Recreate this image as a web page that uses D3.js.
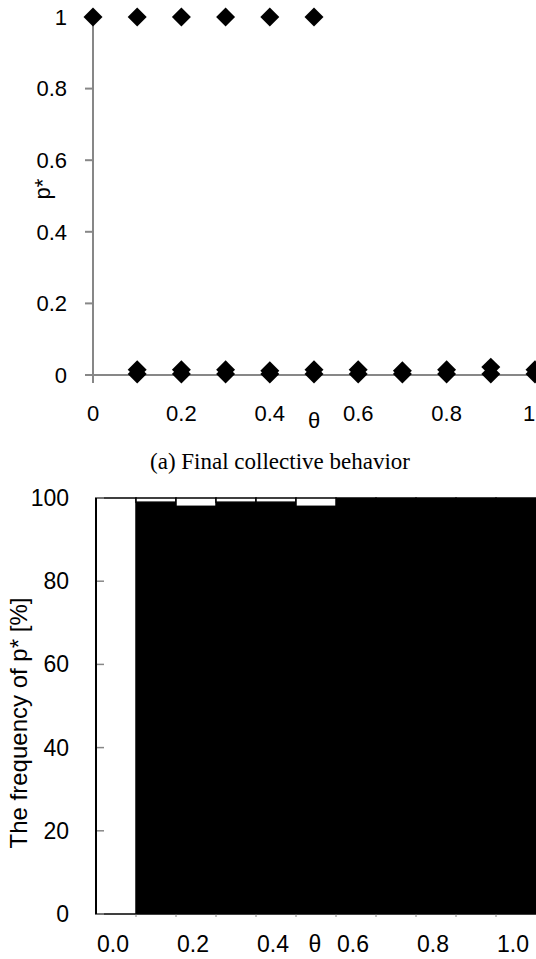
<html>
  <head>
    <style>
      body { margin: 0; background: #fff; }
      text { font-family: "Liberation Sans", Arial, sans-serif; fill: #000; }
      .caption { font-family: "Liberation Serif", "Times New Roman", serif; }
    </style>
  </head>
  <body>
    <svg id="fig" width="536" height="959"></svg>
    <script src="https://cdnjs.cloudflare.com/ajax/libs/d3/7.8.5/d3.min.js"></script>
    <script>
// (a) final collective behaviour, p* against theta
var thetaOne = [0, 0.1, 0.2, 0.3, 0.4, 0.5];
var pOne = [1, 1, 1, 1, 1, 1];
var thetaZero = [0.1, 0.2, 0.3, 0.4, 0.5, 0.6, 0.7, 0.8, 0.9, 1.0];
var pZeroLow = [0.003, 0.003, 0.003, 0.003, 0.003, 0.003, 0.003, 0.003, 0.003, 0.003];
var pZeroHigh = [0.015, 0.015, 0.015, 0.012, 0.015, 0.015, 0.012, 0.015, 0.022, 0.015];
var yTicksA = [0, 0.2, 0.4, 0.6, 0.8, 1];
var xTicksA = [0, 0.2, 0.4, 0.6, 0.8, 1];

// (b) frequency of p* (black = 0, white = 1)
var thetaCats = ['0.0', '0.1', '0.2', '0.3', '0.4', '0.5', '0.6', '0.7', '0.8', '0.9', '1.0'];
var freqZero = [0, 99, 98, 99, 99, 98, 100, 100, 100, 100, 100];
var freqOne = [100, 1, 2, 1, 1, 2, 0, 0, 0, 0, 0];
var yTicksB = [0, 20, 40, 60, 80, 100];
var xLabelsB = ['0.0', '0.2', '0.4', '0.6', '0.8', '1.0'];

var svg = d3.select('#fig');
var grey = '#878787';

// ---------- chart (a)
var xa = d3.scaleLinear().domain([0, 1]).range([93, 535]);
var ya = d3.scaleLinear().domain([0, 1]).range([375, 17]);
var ga = svg.append('g');

ga.append('line').attr('x1', xa(0)).attr('x2', 536).attr('y1', ya(0)).attr('y2', ya(0))
  .attr('stroke', grey).attr('stroke-width', 2);
ga.append('line').attr('x1', xa(0)).attr('x2', xa(0)).attr('y1', ya(1)).attr('y2', ya(0) + 8)
  .attr('stroke', grey).attr('stroke-width', 2);

ga.selectAll('.ytick').data(yTicksA).enter().append('line')
  .attr('x1', xa(0) - 8).attr('x2', xa(0)).attr('y1', d => ya(d)).attr('y2', d => ya(d))
  .attr('stroke', grey).attr('stroke-width', 2);
ga.selectAll('.ylab').data(yTicksA).enter().append('text')
  .attr('x', 67).attr('y', d => ya(d)).attr('dy', '0.35em')
  .attr('text-anchor', 'end').style('font-size', '22px')
  .text(d => d3.format('~g')(d));
// last label sits at the page edge, keep it just inside
ga.selectAll('.xlab').data(xTicksA).enter().append('text')
  .attr('x', d => Math.min(xa(d), 529)).attr('y', 421)
  .attr('text-anchor', 'middle').style('font-size', '22px')
  .text(d => d3.format('~g')(d));
ga.append('text').attr('x', xa(0.5)).attr('y', 428).attr('text-anchor', 'middle')
  .style('font-size', '22px').text('θ');
ga.append('text').attr('transform', 'translate(50,189) rotate(-90)')
  .attr('text-anchor', 'middle').style('font-size', '22px').text('p*');

var diamond = d3.symbol().type(d3.symbolSquare).size(180);
function drawPts(xs, ys) {
  ga.selectAll(null).data(xs.map((x, i) => [x, ys[i]])).enter().append('path')
    .attr('d', diamond)
    .attr('transform', d => 'translate(' + xa(d[0]) + ',' + ya(d[1]) + ') rotate(45)')
    .attr('fill', '#000');
}
drawPts(thetaZero, pZeroLow);
drawPts(thetaZero, pZeroHigh);
drawPts(thetaOne, pOne);

svg.append('text').attr('class', 'caption').attr('x', 280).attr('y', 469)
  .attr('text-anchor', 'middle').style('font-size', '23px')
  .text('(a) Final collective behavior');

// ---------- chart (b)
var xb = d3.scaleBand().domain(thetaCats).range([96, 536]).padding(0);
var yb = d3.scaleLinear().domain([0, 100]).range([914, 498]);
var gb = svg.append('g');

var stackData = thetaCats.map((c, i) => ({ cat: c, zero: freqZero[i], one: freqOne[i] }));
var series = d3.stack().keys(['zero', 'one'])(stackData);
var fills = { zero: '#000', one: '#fff' };

gb.selectAll('.layer').data(series).enter().append('g')
  .attr('fill', d => fills[d.key])
  .selectAll('rect').data(d => d.filter(s => s[1] - s[0] > 0)).enter().append('rect')
  .attr('x', d => xb(d.data.cat)).attr('width', xb.bandwidth())
  .attr('y', d => yb(d[1])).attr('height', d => yb(d[0]) - yb(d[1]))
  .attr('stroke', '#000').attr('stroke-width', 1.5);

// small ticks along the bottom between bars
gb.selectAll('.xtick').data(thetaCats.slice(1)).enter().append('line')
  .attr('x1', d => xb(d)).attr('x2', d => xb(d)).attr('y1', yb(0)).attr('y2', yb(0) + 3)
  .attr('stroke', grey).attr('stroke-width', 1);

gb.selectAll('.ytick').data(yTicksB).enter().append('line')
  .attr('x1', 96).attr('x2', 104).attr('y1', d => yb(d)).attr('y2', d => yb(d))
  .attr('stroke', grey).attr('stroke-width', 1.5);
gb.append('line').attr('x1', 96).attr('x2', 96).attr('y1', yb(100)).attr('y2', yb(0))
  .attr('stroke', '#000').attr('stroke-width', 2);

gb.selectAll('.ylab').data(yTicksB).enter().append('text')
  .attr('x', 69).attr('y', d => yb(d)).attr('dy', '0.35em')
  .attr('text-anchor', 'end').style('font-size', '23px').text(d => d);
gb.selectAll('.xlab').data(xLabelsB).enter().append('text')
  .attr('x', d => xb(d) + xb.bandwidth() / 2 - 3).attr('y', 952)
  .attr('text-anchor', 'middle').style('font-size', '23px').text(d => d);
gb.append('text').attr('x', 315).attr('y', 952).attr('text-anchor', 'middle')
  .style('font-size', '23px').text('θ');
gb.append('text').attr('transform', 'translate(27,723) rotate(-90)')
  .attr('text-anchor', 'middle').style('font-size', '24px').text('The frequency of p* [%]');
    </script>
  </body>
</html>
